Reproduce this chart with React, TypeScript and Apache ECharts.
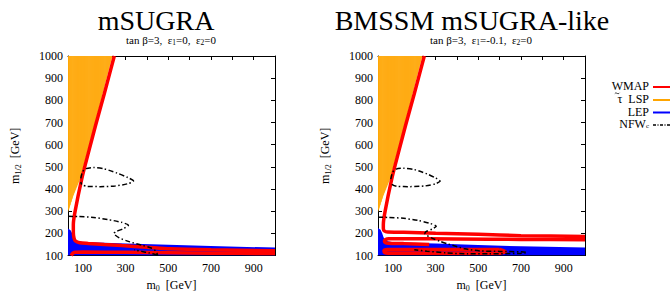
import React, { useEffect, useRef } from 'react';
import * as echarts from 'echarts';

const X_MIN = 30;
const X_MAX = 1000;
const Y_MIN = 100;
const Y_MAX = 1000;
const xTickValues = [100, 200, 300, 400, 500, 600, 700, 800, 900];
const xLabelValues = [100, 300, 500, 700, 900];

const panelTitles = ['mSUGRA', 'BMSSM mSUGRA-like'];
const panelSubtitles = ['tan β=3,  ε{s|1}=0,  ε{s|2}=0', 'tan β=3,  ε{s|1}=-0.1,  ε{s|2}=0'];
const legendNames = ['WMAP', 'τ  LSP', 'LEP', 'NFW{s|c}'];

// [m0, m1/2] in GeV
const stauLspLeft = [[30, 295], [55, 370], [86, 444], [120, 567], [160, 710], [200, 860], [238, 1000], [30, 1000]];
const stauLspRight = [[30, 295], [55, 370], [86, 444], [120, 567], [160, 710], [200, 860], [238, 1000], [30, 1000]];

const lepLeft = [[30, 100], [30, 222], [42, 214], [50, 200], [55, 185], [62, 172], [75, 165], [100, 161], [200, 158], [300, 155], [500, 149], [700, 143], [1000, 136], [1000, 100]];
const lepRight = [[30, 100], [30, 224], [42, 216], [50, 200], [55, 185], [62, 172], [75, 165], [100, 160], [200, 157], [300, 154], [500, 148], [700, 142], [1000, 136], [1000, 100]];

const wmapLeftA = [[247, 1000], [200, 830], [160, 690], [130, 580], [94, 444], [63, 298], [55, 240], [55, 205], [58, 180], [65, 166], [85, 158], [125, 155], [200, 150], [282, 145], [400, 138], [509, 131], [700, 126], [1000, 122]];
const wmapLeftB = [[45, 100], [52, 110], [62, 115], [100, 116], [300, 115], [500, 113], [700, 111], [1000, 109]];

const wmapRightA = [[247, 1000], [200, 830], [160, 690], [130, 580], [94, 444], [63, 298], [55, 240], [55, 222], [60, 211], [75, 206], [150, 205], [300, 201], [500, 196], [700, 190], [1000, 186]];
const wmapRightC = [[1000, 171], [700, 173], [400, 175], [150, 176], [80, 176], [65, 172], [60, 165], [65, 158], [80, 156], [150, 154], [270, 150]];
const wmapRightD = [[600, 128], [400, 128], [150, 128], [75, 127], [58, 122], [62, 113], [80, 111], [300, 111], [600, 111], [628, 118], [600, 128]];

const nfwLeftUpper = [[90, 448], [98, 478], [115, 492], [150, 497], [200, 491], [260, 472], [310, 452], [337, 436], [310, 424], [250, 414], [180, 411], [120, 412], [95, 420], [90, 432]];
const nfwLeftLower = [[30, 277], [80, 276], [150, 272], [220, 262], [280, 250], [313, 237], [290, 222], [255, 208], [245, 200], [270, 180], [320, 162], [380, 146], [420, 134], [440, 122], [448, 108], [450, 100]];
const nfwLeftTail = [[448, 103], [410, 112], [375, 119], [340, 126]];

const nfwRightUpper = [[90, 445], [98, 475], [115, 490], [150, 494], [200, 488], [260, 468], [300, 450], [321, 436], [300, 424], [250, 414], [180, 411], [120, 412], [97, 420], [90, 432]];
const nfwRightLower = [[30, 273], [80, 272], [150, 268], [220, 258], [275, 245], [303, 232], [285, 220], [255, 208], [250, 200], [280, 180], [320, 165], [360, 152], [437, 131], [509, 121], [600, 119], [700, 117], [728, 114], [690, 110], [550, 108], [450, 108], [350, 112], [260, 120], [200, 126]];

const RED = '#ff0000';
const ORANGE = '#ffa500';
const ORANGE_LIGHT = '#ffb42a';
const BLUE = '#0000ff';
const SERIF = 'Liberation Serif';

export default function App() {
  const ref = useRef<HTMLDivElement>(null);
  useEffect(() => {
    if (!ref.current) return;
    const chart = echarts.init(ref.current, undefined, { renderer: 'svg' });

    const poly = (data: number[][], color: string, ai: number, z: number, stripes = false) => ({
      type: 'custom',
      xAxisIndex: ai,
      yAxisIndex: ai,
      data,
      silent: true,
      z,
      clip: true,
      renderItem: (params: any, api: any) => {
        if (params.dataIndex !== 0) return null;
        const pts = data.map((p) => api.coord(p));
        const children: any[] = [{ type: 'polygon', shape: { points: pts }, style: { fill: color } }];
        if (stripes) {
          for (let m = 36; m < 232; m += 5) {
            const top = api.coord([m, Y_MAX]);
            let yb = Y_MAX;
            for (let k = 0; k < data.length - 2; k++) {
              const [x1, y1] = data[k];
              const [x2, y2] = data[k + 1];
              if (m >= x1 && m <= x2) { yb = y1 + ((m - x1) / (x2 - x1)) * (y2 - y1); break; }
            }
            const bot = api.coord([m, yb]);
            children.push({ type: 'line', shape: { x1: top[0], y1: top[1], x2: bot[0], y2: bot[1] }, style: { stroke: ORANGE_LIGHT, lineWidth: 0.6 } });
          }
        }
        return { type: 'group', children };
      },
    });
    const line = (data: number[][], color: string, width: number, ai: number, z: number, type: any = 'solid', smooth = 0.25) => ({
      type: 'line',
      xAxisIndex: ai,
      yAxisIndex: ai,
      data,
      showSymbol: false,
      symbol: 'none',
      smooth,
      silent: true,
      z,
      clip: true,
      lineStyle: { color, width, type },
    });
    const dashDot = [5, 2.5, 1.5, 2.5];

    const axisFont = { fontFamily: SERIF, fontSize: 12, color: '#000' };
    const nameRich = {
      a: { fontFamily: SERIF, fontSize: 12, color: '#000' },
      b: { fontFamily: SERIF, fontSize: 8, color: '#000', padding: [7, 0, 0, 0] },
    };
    const xBottom = (gi: number) => ({
      type: 'value', gridIndex: gi, min: X_MIN, max: X_MAX, position: 'bottom',
      axisLine: { show: true, onZero: false, lineStyle: { color: '#000', width: 1 } },
      axisTick: { show: true, inside: true, length: 4, customValues: xTickValues, lineStyle: { color: '#000' } },
      axisLabel: { show: true, customValues: xLabelValues, margin: 6, formatter: (v: number) => String(v), ...axisFont },
      splitLine: { show: false },
      name: '{a|m}{b|0}  {a|[GeV]}', nameLocation: 'middle', nameGap: 21,
      nameTextStyle: { fontFamily: SERIF, rich: nameRich },
    });
    const xTop = (gi: number) => ({
      type: 'value', gridIndex: gi, min: X_MIN, max: X_MAX, position: 'top',
      axisLine: { show: true, onZero: false, lineStyle: { color: '#000', width: 1 } },
      axisTick: { show: true, inside: true, length: 4, customValues: xTickValues, lineStyle: { color: '#000' } },
      axisLabel: { show: false },
      splitLine: { show: false },
    });
    const yLeft = (gi: number) => ({
      type: 'value', gridIndex: gi, min: Y_MIN, max: Y_MAX, interval: 100, position: 'left',
      axisLine: { show: true, onZero: false, lineStyle: { color: '#000', width: 1 } },
      axisTick: { show: true, inside: true, length: 4, lineStyle: { color: '#000' } },
      axisLabel: { show: true, margin: 5, formatter: (v: number) => String(v), ...axisFont },
      splitLine: { show: false },
      name: '{a|m}{b|1/2}  {a|[GeV]}', nameLocation: 'middle', nameGap: 46,
      nameTextStyle: { fontFamily: SERIF, rich: nameRich },
    });
    const yRight = (gi: number) => ({
      type: 'value', gridIndex: gi, min: Y_MIN, max: Y_MAX, interval: 100, position: 'right',
      axisLine: { show: true, onZero: false, lineStyle: { color: '#000', width: 1 } },
      axisTick: { show: true, inside: true, length: 4, lineStyle: { color: '#000' } },
      axisLabel: { show: false },
      splitLine: { show: false },
    });

    const legendColors = [RED, ORANGE, BLUE, '#000'];
    const legendY = [86, 99, 111.5, 124];
    const legendGraphics: any[] = [];
    legendNames.forEach((n, i) => {
      legendGraphics.push({
        type: 'text', x: 649, y: legendY[i],
        style: {
          text: n, fill: '#000', font: `12px ${SERIF}`, align: 'right', verticalAlign: 'middle', lineHeight: 11,
          rich: { s: { fontFamily: SERIF, fontSize: 7, fill: '#000', lineHeight: 7, padding: [4, 0, 0, 0] } },
        },
      });
      legendGraphics.push({
        type: 'line', shape: { x1: 653, y1: legendY[i] + 1, x2: 670, y2: legendY[i] + 1 },
        style: { stroke: legendColors[i], lineWidth: i === 3 ? 1.5 : 2, lineDash: i === 3 ? [3, 1.5, 1, 1.5] : null },
      });
    });
    // tilde accent drawn over the tau of the stau legend entry
    legendGraphics.push({
      type: 'bezierCurve',
      shape: { x1: 614.8, y1: 93.6, cpx1: 616.3, cpy1: 91.6, cpx2: 617.8, cpy2: 95.2, x2: 619.5, y2: 92.8 },
      style: { stroke: '#000', lineWidth: 0.8, fill: null },
    });

    const subRich = { s: { fontFamily: SERIF, fontSize: 7.5, fill: '#000', padding: [5, 0, 0, 0] } };
    const titleGraphics = [
      { type: 'text', x: 156, y: 20, style: { text: panelTitles[0], font: `28px ${SERIF}`, fill: '#000', align: 'center', verticalAlign: 'middle' } },
      { type: 'text', x: 472, y: 20, style: { text: panelTitles[1], font: `28px ${SERIF}`, fill: '#000', align: 'center', verticalAlign: 'middle' } },
      { type: 'text', x: 171, y: 40, style: { text: panelSubtitles[0], font: `11px ${SERIF}`, fill: '#000', align: 'center', verticalAlign: 'middle', rich: subRich } },
      { type: 'text', x: 481, y: 40, style: { text: panelSubtitles[1], font: `11px ${SERIF}`, fill: '#000', align: 'center', verticalAlign: 'middle', rich: subRich } },
    ];

    chart.setOption({
      animation: false,
      backgroundColor: '#fff',
      textStyle: { fontFamily: SERIF },
      grid: [
        { left: 68, top: 56, width: 207, height: 206, containLabel: false },
        { left: 378, top: 56, width: 207, height: 206, containLabel: false },
      ],
      xAxis: [xBottom(0), xTop(0), xBottom(1), xTop(1)],
      yAxis: [yLeft(0), yRight(0), yLeft(1), yRight(1)],
      series: [
        poly(lepLeft, BLUE, 0, 1),
        poly(stauLspLeft, ORANGE, 0, 1, true),
        line(wmapLeftA, RED, 3.5, 0, 2),
        line(wmapLeftB, RED, 3.5, 0, 2),
        line(nfwLeftUpper, '#000', 1.5, 0, 3, dashDot),
        line(nfwLeftLower, '#000', 1.5, 0, 3, dashDot),
        line(nfwLeftTail, '#000', 1.5, 0, 3, dashDot),
        poly(lepRight, BLUE, 2, 1),
        poly(stauLspRight, ORANGE, 2, 1, true),
        line(wmapRightA, RED, 3.5, 2, 2),
        line(wmapRightC, RED, 3.5, 2, 2),
        line(wmapRightD, RED, 3.5, 2, 2),
        line(nfwRightUpper, '#000', 1.5, 2, 3, dashDot),
        line(nfwRightLower, '#000', 1.5, 2, 3, dashDot),
      ],
      graphic: [...titleGraphics, ...legendGraphics],
    });
    return () => chart.dispose();
  }, []);
  return <div ref={ref} style={{ position: 'fixed', left: 0, top: 0, width: 670, height: 297 }} />;
}
